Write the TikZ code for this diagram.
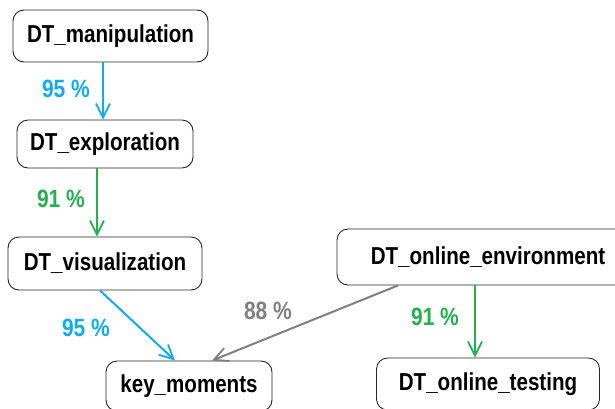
\documentclass[tikz,border=0pt]{standalone}
\usepackage{fontspec}
\setmainfont{Liberation Sans}[FakeStretch=0.84]
\usepackage{tikz}
\usetikzlibrary{arrows.meta}
\definecolor{pc_blue}{RGB}{16, 172, 236}
\definecolor{pc_green}{RGB}{34, 177, 76}
\definecolor{pc_gray}{RGB}{128, 128, 128}
\tikzstyle{bx}=[rectangle,rounded corners=11pt,fill=white,draw=black!85,
  line width=0.9pt,inner sep=0pt,font=\fontsize{24.5}{27}\selectfont\bfseries]
\tikzstyle{pct}=[inner sep=0pt,font=\fontsize{25}{27}\selectfont\bfseries]
\tikzstyle{ed}=[line width=2pt,-{Straight Barb[length=14pt,width=14pt,line width=1.8pt]}]

\begin{document}
\begin{tikzpicture}[x=1pt,y=-1pt]
    \useasboundingbox (0,0) rectangle (615,408);
    \node [style=bx,minimum width=195pt,minimum height=52pt] (manip) at (110.5,36) {DT\_manipulation};
    \node [style=bx,minimum width=176pt,minimum height=48pt] (explor) at (105,144) {DT\_exploration};
    \node [style=bx,minimum width=194pt,minimum height=53pt] (visual) at (105,263.5) {DT\_visualization};
    \node [style=bx,minimum width=166pt,minimum height=50pt] (keymom) at (189,386) {key\_moments};
    \node [style=bx,minimum width=302pt,minimum height=56pt] (onenv) at (488,257) {DT\_online\_environment};
    \node [style=bx,minimum width=223pt,minimum height=52pt] (ontest) at (488,384) {DT\_online\_testing};
    \node [style=pct,text=pc_blue] (p1) at (66,89) {95 \%};
    \node [style=pct,text=pc_green] (p2) at (61,199) {91 \%};
    \node [style=pct,text=pc_blue] (p3) at (86,328) {95 \%};
    \node [style=pct,text=pc_gray] (p4) at (268,311) {88 \%};
    \node [style=pct,text=pc_green] (p5) at (435,317) {91 \%};
    \draw [style=ed,pc_blue] ([xshift=-7.5pt]manip.south) to ([xshift=-2pt]explor.north);
    \draw [style=ed,pc_green] ([xshift=-8pt]explor.south) to ([xshift=-8pt]visual.north);
    \draw [style=ed,pc_blue] ([xshift=-5pt]visual.south) to ([xshift=-14pt]keymom.north);
    \draw [style=ed,pc_gray] ([xshift=-90pt]onenv.south) to ([xshift=23pt]keymom.north);
    \draw [style=ed,pc_green] ([xshift=-13pt]onenv.south) to ([xshift=-13pt]ontest.north);
  \end{tikzpicture}
\end{document}
